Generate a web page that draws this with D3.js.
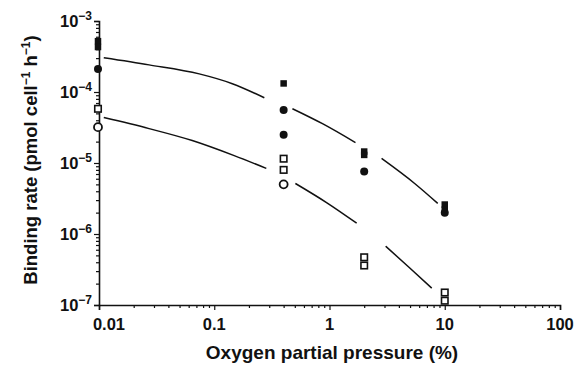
<!DOCTYPE html>
<html><head><meta charset="utf-8">
<script src="https://cdn.jsdelivr.net/npm/d3@7"></script>
<style>body{margin:0;background:#fff}svg{display:block}text{font-family:"Liberation Sans",Arial,sans-serif;font-weight:bold;fill:#111}</style>
</head><body>
<script>
// Data
const filledSquares = [[0.0098,5.2e-4],[0.0098,4.3e-4],[0.4,1.32e-4],[2,1.45e-5],[2,1.3e-5],[10,2.6e-6],[10,2.2e-6]];
const filledCircles = [[0.0098,2.1e-4],[0.4,5.6e-5],[0.4,2.5e-5],[2,7.6e-6],[10,2.0e-6]];
const openSquares = [[0.0098,5.8e-5],[0.4,1.15e-5],[0.4,8.0e-6],[2,4.7e-7],[2,3.6e-7],[10,1.5e-7],[10,1.15e-7]];
const openCircles = [[0.0098,3.2e-5],[0.4,5.0e-6]];
const upperFit = [
  [[0.0110,3.03e-4],[0.0272,2.41e-4],[0.0741,1.80e-4],[0.1435,1.31e-4],[0.272,8.3e-5]],
  [[0.477,5.82e-5],[0.869,3.58e-5],[1.68,1.94e-5]],
  [[2.83,1.16e-5],[5.48,5.15e-6],[8.69,2.70e-6]]
];
const lowerFit = [
  [[0.0110,4.36e-5],[0.0272,3.05e-5],[0.0644,2.07e-5],[0.149,1.27e-5],[0.283,8.4e-6]],
  [[0.506,5.15e-6],[0.95,2.75e-6],[1.72,1.42e-6]],
  [[3.07,6.73e-7],[5.0,3.3e-7],[7.71,1.73e-7]]
];
const xTicks = [0.01,0.1,1,10,100];
const xTickLabels = ["0.01","0.1","1","10","100"];
const yTicks = [1e-3,1e-4,1e-5,1e-6,1e-7];
const yTickExp = ["−3","−4","−5","−6","−7"];
const xTitle = "Oxygen partial pressure (%)";

const W=577,H=365;
const svg=d3.select("body").append("svg").attr("width",W).attr("height",H);
const x=d3.scaleLog().domain([0.01,100]).range([99,560]);
const y=d3.scaleLog().domain([1e-7,1e-3]).range([305,21]);

// minor ticks
const xMinor=[],yMinor=[];
for(let d=-2;d<2;d++)for(let k=2;k<=9;k++)xMinor.push(k*Math.pow(10,d));
for(let d=-7;d<-3;d++)for(let k=2;k<=9;k++)yMinor.push(k*Math.pow(10,d));

const g=svg.append("g");
g.append("g").attr("transform","translate(0,305)")
 .call(d3.axisBottom(x).tickValues(xMinor).tickSize(3).tickFormat(""))
 .call(a=>a.select(".domain").remove());
g.append("g").attr("transform","translate(0,305)")
 .call(d3.axisBottom(x).tickValues(xTicks).tickSize(5).tickFormat(""));
g.append("g").attr("transform","translate(99,0)")
 .call(d3.axisLeft(y).tickValues(yMinor).tickSize(3).tickFormat(""))
 .call(a=>a.select(".domain").remove());
g.append("g").attr("transform","translate(99,0)")
 .call(d3.axisLeft(y).tickValues(yTicks).tickSize(5).tickFormat(""));
g.selectAll(".domain").attr("stroke","#111").attr("stroke-width",1.6);
g.selectAll(".tick line").attr("stroke","#111").attr("stroke-width",1.2);

// tick labels
svg.selectAll(".xl").data(xTicks).enter().append("text")
 .attr("x",(d)=>x(d)+(d===0.01?10:0)).attr("y",330).attr("text-anchor","middle").attr("font-size",16.5)
 .text((d,i)=>xTickLabels[i]);
const yl=svg.selectAll(".yl").data(yTicks).enter().append("text")
 .attr("x",92).attr("y",d=>y(d)+6).attr("text-anchor","end").attr("font-size",16.5);
yl.append("tspan").text("10");
yl.append("tspan").attr("dy",-7).attr("font-size",12).text((d,i)=>yTickExp[i]);

// axis titles
svg.append("text").attr("x",332).attr("y",359).attr("text-anchor","middle").attr("font-size",19).text(xTitle);
const yt=svg.append("text").attr("transform","translate(37,160) rotate(-90)").attr("text-anchor","middle").attr("font-size",18.5);
yt.append("tspan").text("Binding rate (pmol cell");
yt.append("tspan").attr("dy",-7).attr("font-size",12).text("−1");
yt.append("tspan").attr("dy",7).text(" h");
yt.append("tspan").attr("dy",-7).attr("font-size",12).text("−1");
yt.append("tspan").attr("dy",7).text(")");

// fit lines
const line=d3.line().x(d=>x(d[0])).y(d=>y(d[1])).curve(d3.curveMonotoneX);
[...upperFit,...lowerFit].forEach(seg=>{
  svg.append("path").attr("d",line(seg)).attr("fill","none").attr("stroke","#111").attr("stroke-width",1.5);
});

// markers
const sq=6.5, r=4;
svg.selectAll(".fs").data(filledSquares).enter().append("rect")
 .attr("x",d=>x(d[0])-sq/2).attr("y",d=>y(d[1])-sq/2).attr("width",sq).attr("height",sq).attr("fill","#111");
svg.selectAll(".fc").data(filledCircles).enter().append("circle")
 .attr("cx",d=>x(d[0])).attr("cy",d=>y(d[1])).attr("r",r).attr("fill","#111");
svg.selectAll(".os").data(openSquares).enter().append("rect")
 .attr("x",d=>x(d[0])-sq/2).attr("y",d=>y(d[1])-sq/2).attr("width",sq).attr("height",sq).attr("fill","#fff").attr("stroke","#111").attr("stroke-width",1.6);
svg.selectAll(".oc").data(openCircles).enter().append("circle")
 .attr("cx",d=>x(d[0])).attr("cy",d=>y(d[1])).attr("r",r).attr("fill","#fff").attr("stroke","#111").attr("stroke-width",1.8);
</script>
</body></html>
